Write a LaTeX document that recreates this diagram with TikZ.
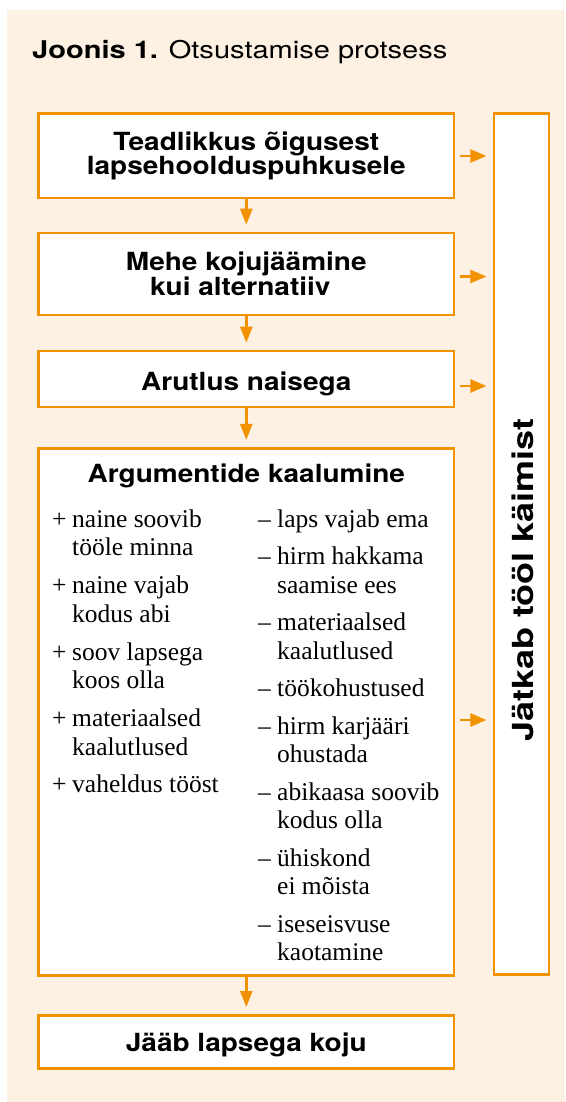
\documentclass[tikz,border=0pt]{standalone}
\usepackage{fontspec}
\setmainfont{Liberation Serif}
\newfontfamily\hdfont[FakeStretch=1.12]{TeX Gyre Heros}
\newfontfamily\vtfont[FakeStretch=1.24]{TeX Gyre Heros}
\newfontfamily\ttlfont[FakeStretch=1.19]{TeX Gyre Heros}
\usetikzlibrary{arrows.meta}
\definecolor{org}{HTML}{F39200}
\definecolor{bgc}{HTML}{FCF1E3}
\newcommand\oneitem[3][20pt]{\makebox[#1][l]{#2}#3}
\newcommand\twoitem[4][20pt]{\makebox[#1][l]{#2}#3\\\hspace*{#1}#4}
\tikzset{
  box/.style={draw=org, line width=2.6pt, fill=white, inner sep=0pt, align=center,
    font=\hdfont\bfseries\fontsize{25}{24}\selectfont},
  varr/.style={draw=org, line width=2.5pt, -{Triangle[length=16pt,width=12pt]}, shorten >=7pt},
  harr/.style={draw=org, line width=2.5pt, -{Triangle[length=16pt,width=13pt]}, shorten <=4.5pt, shorten >=6.3pt},
  lst/.style={anchor=base west, inner sep=0pt, align=left, font=\fontsize{25.5}{28.5}\selectfont},
  hd/.style={inner sep=0pt, font=\hdfont\bfseries\fontsize{25}{24}\selectfont}
}
\begin{document}
\begin{tikzpicture}[x=1pt, y=-1pt]
\useasboundingbox (0,0) rectangle (565,1102);
\fill[bgc] (7,10) rectangle (565,1102);

\node[anchor=base west, inner sep=0pt, font=\ttlfont\fontsize{24.4}{28}\selectfont] (title) at (32,58.5)
  {\textbf{Joonis 1.} Otsustamise protsess};

\node[box, minimum width=415.5pt, minimum height=84.5pt] (b1) at (246.3,155.6)
  {Teadlikkus õigusest\\lapsehoolduspuhkusele};
\node[box, minimum width=415.5pt, minimum height=82pt] (b2) at (246.3,274)
  {Mehe kojujäämine\\kui alternatiiv\hspace*{12pt}};
\node[box, minimum width=415.5pt, minimum height=56pt] (b3) at (246.3,379) {};
\node[box, minimum width=415.5pt, minimum height=527pt] (b4) at (246.3,711.7) {};
\node[box, minimum width=415.5pt, minimum height=53.4pt] (b5) at (246.3,1042) {};
\node[box, minimum width=55pt, minimum height=861.4pt] (R) at (521.5,544) {};

\coordinate (t3y) at (0,390);
\coordinate (t5y) at (0,1051);
\node[hd, anchor=base] (t3) at (b3.center |- t3y) {Arutlus naisega};
\node[hd, anchor=base] (t5) at (b5.center |- t5y) {Jääb lapsega koju};

\node[inner sep=0pt, rotate=90, font=\vtfont\bfseries\fontsize{29}{28}\selectfont] (vt) at (523,580) {Jätkab tööl käimist};
\node[hd, anchor=base] (h4) at (246.3,482) {Argumentide kaalumine};

% left column (base anchor = last line)
\node[lst] (p1) at (52,555.5) {\twoitem{+}{naine soovib}{tööle minna}};
\node[lst] (p2) at (52,622) {\twoitem{+}{naine vajab}{kodus abi}};
\node[lst] (p3) at (52,688.5) {\twoitem{+}{soov lapsega}{koos olla}};
\node[lst] (p4) at (52,755) {\twoitem{+}{materiaalsed}{kaalutlused}};
\node[lst] (p5) at (52,792) {\oneitem{+}{vaheldus tööst}};

% right column
\node[lst] (m1) at (258,527) {\oneitem[19pt]{–}{laps vajab ema}};
\node[lst] (m2) at (258,593) {\twoitem[19pt]{–}{hirm hakkama}{saamise ees}};
\node[lst] (m3) at (258,659) {\twoitem[19pt]{–}{materiaalsed}{kaalutlused}};
\node[lst] (m4) at (258,696.5) {\oneitem[19pt]{–}{töökohustused}};
\node[lst] (m5) at (258,762.5) {\twoitem[19pt]{–}{hirm karjääri}{ohustada}};
\node[lst] (m6) at (258,828.5) {\twoitem[19pt]{–}{abikaasa soovib}{kodus olla}};
\node[lst] (m7) at (258,894.5) {\twoitem[19pt]{–}{ühiskond}{ei mõista}};
\node[lst] (m8) at (258,960.5) {\twoitem[19pt]{–}{iseseisvuse}{kaotamine}};

% vertical arrows
\draw[varr] (b1.south) -- (b2.north);
\draw[varr] (b2.south) -- (b3.north);
\draw[varr] (b3.south) -- (b4.north);
\draw[varr] (b4.south) -- (b5.north);

% horizontal arrows
\coordinate (y1) at (0,156);
\coordinate (y2) at (0,276.5);
\coordinate (y3) at (0,386);
\coordinate (y4) at (0,720);
\draw[harr] (b1.east |- y1) -- (R.west |- y1);
\draw[harr] (b2.east |- y2) -- (R.west |- y2);
\draw[harr] (b3.east |- y3) -- (R.west |- y3);
\draw[harr] (b4.east |- y4) -- (R.west |- y4);
\end{tikzpicture}
\end{document}
